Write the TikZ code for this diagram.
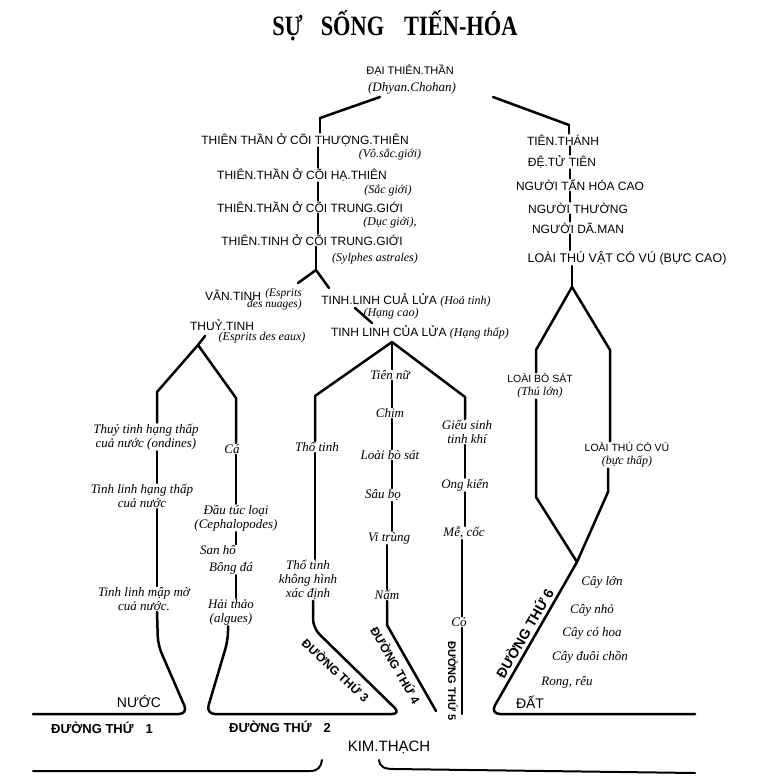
\documentclass[tikz,border=0pt]{standalone}
\usepackage{fontspec}
\setmainfont{Liberation Serif}
\newfontfamily\capsfont{Liberation Sans}
\newfontfamily\titlefont[FakeStretch=0.8]{Liberation Serif}
\usetikzlibrary{positioning,calc}
\tikzset{
	capsnode/.style={font=\capsfont\fontsize{12}{14}\selectfont, inner sep=1pt, align=center},
	handnode/.style={font=\itshape\fontsize{13}{14}\selectfont, inner sep=1pt, align=center},
	notenode/.style={font=\itshape\fontsize{12}{12}\selectfont, inner sep=1pt, align=center},
	roadnode/.style={font=\capsfont\bfseries\fontsize{12}{12}\selectfont, inner sep=1pt},
	stemline/.style={line width=2.5pt, line cap=round, line join=round}
}

\begin{document}
\begin{tikzpicture}[x=1pt,y=-1pt]
	\useasboundingbox (0,0) rectangle (758,784);
	\node[font=\titlefont\bfseries\fontsize{28}{30}\selectfont] at (395,26) (title) {SỰ\hspace{18pt}SỐNG\hspace{20pt}TIẾN-HÓA};
	\node[capsnode, font=\capsfont\fontsize{11}{12}\selectfont] at (410,70) (DTT) {ĐẠI THIÊN.THẦN};
	\node[handnode] at (412,88) (DC) {(Dhyan.Chohan)};
	\coordinate (DCl) at (380,97);
	\coordinate (DCr) at (493,97);
	\coordinate (Lj) at (320,118);
	\coordinate (Rj) at (569,125);
	\draw[stemline] (DCl) -- (Lj);
	\draw[stemline] (DCr) -- (Rj);
	
	% left: thien than
	\coordinate (spL) at (318,0);
	\node[capsnode] at (305,140) (TT1) {THIÊN THẦN Ở CÕI THƯỢNG.THIÊN};
	\node[notenode] at (390,154) (G1) {(Vô.sắc.giới)};
	\node[capsnode] at (302,175) (TT2) {THIÊN.THẦN Ở CÕI HẠ.THIÊN};
	\node[notenode] at (388,190) (G2) {(Sắc giới)};
	\node[capsnode] at (310,207) (TT3) {THIÊN.THẦN Ở CÕI TRUNG.GIỚI};
	\node[notenode] at (390,223) (G3) {(Dục giới),};
	\node[capsnode] at (312,240) (TT4) {THIÊN.TINH Ở CÕI TRUNG.GIỚI};
	\node[notenode] at (375,259) (G4) {(Sylphes astrales)};
	\draw[stemline] (Lj) -- (Lj |- TT1.north);
	\draw[stemline] (TT1.south -| spL) -- (TT2.north -| spL);
	\draw[stemline] (TT2.south -| spL) -- (TT3.north -| spL);
	\draw[stemline] (TT3.south -| spL) -- (TT4.north -| spL);
	\coordinate (Bj) at (316,270);
	\draw[stemline] (TT4.south -| Bj) -- (Bj);
	
	\node[capsnode] at (233,295) (VT) {VÂN.TINH};
	\node[notenode, font=\itshape\fontsize{11.5}{11}\selectfont, align=right, anchor=north east] at (303,287) (VTn) {(Esprits\\des nuages)};
	\node[capsnode] at (406,300) (TL1) {TINH.LINH CUẢ LỬA {\rmfamily\itshape (Hoả tinh)}};
	\node[notenode] at (391,314) (TL1n) {(Hạng cao)};
	\node[capsnode] at (420,332) (TL2) {TINH LINH CỦA LỬA {\rmfamily\itshape (Hạng thấp)}};
	\node[capsnode] at (222,325) (TY) {THUỶ.TINH};
	\node[notenode] at (262,338) (TYn) {(Esprits des eaux)};
	\coordinate (VTa) at (298,283);
	\coordinate (TLa) at (329,288);
	\coordinate (TLb) at (355,308);
	\coordinate (TLc) at (372,323);
	\draw[stemline] (VTa) -- (Bj) -- (TLa);
	\draw[stemline] (TLb) -- (TLc);
	
	% nuoc
	\coordinate (TYa) at (205,336);
	\coordinate (Wj) at (198,345);
	\coordinate (WLa) at (157,392);
	\coordinate (WRa) at (236,398);
	\node[handnode] at (146,437) (WL1) {Thuỷ tinh hạng thấp\\cuả nước (ondines)};
	\node[handnode] at (142,496) (WL2) {Tinh linh hạng thấp\\cuả nước};
	\node[handnode] at (144,599) (WL3) {Tinh linh mập mờ\\cuả nước.};
	\node[handnode] at (232,449) (WR1) {Cá};
	\node[handnode] at (236,518) (WR2) {Đầu túc loại\\(Cephalopodes)};
	\node[handnode] at (218,550) (WR3) {San hô};
	\node[handnode] at (231,568) (WR4) {Bông đá};
	\node[handnode] at (231,612) (WR5) {Hải thảo\\(algues)};
	\draw[stemline] (TYa) -- (Wj);
	\draw[stemline] (Wj) -- (WLa) -- (WLa |- WL1.north);
	\draw[stemline] (WL1.south -| WLa) -- (WL2.north -| WLa);
	\draw[stemline] (WL2.south -| WLa) -- (WL3.north -| WLa);
	\draw[stemline, rounded corners=9pt] (WL3.south -| WLa) -- (158,645) -- (188,714) -- (33,714);
	\draw[stemline] (Wj) -- (WRa) -- (WRa |- WR1.north);
	\draw[stemline] (WR1.south -| WRa) -- (WR2.north -| WRa);
	\draw[stemline] (WR2.south -| WRa) -- (WR3.north -| WRa);
	\draw[stemline] (WR4.south -| WRa) -- (WR5.north -| WRa);
	
	% lua
	\coordinate (Fj) at (392,342);
	\coordinate (FLa) at (315,396);
	\coordinate (FRa) at (465,397);
	\coordinate (FMb) at (387,625);
	\coordinate (FRb) at (462,0);
	\node[handnode] at (317,447) (FL1) {Thổ tinh};
	\node[handnode] at (308,580) (FL2) {Thổ tinh\\không hình\\xác định};
	\node[handnode] at (390,375) (FM1) {Tiên nữ};
	\node[handnode] at (390,413) (FM2) {Chim};
	\node[handnode] at (390,455) (FM3) {Loài bò sát};
	\node[handnode] at (383,495) (FM4) {Sâu bọ};
	\node[handnode] at (389,538) (FM5) {Vi trùng};
	\node[handnode] at (387,595) (FM6) {Nấm};
	\node[handnode] at (467,432) (FR1) {Giểu sinh\\tinh khí};
	\node[handnode] at (465,485) (FR2) {Ong kiến};
	\node[handnode] at (464,533) (FR3) {Mễ, cốc};
	\node[handnode] at (459,622) (FR4) {Cỏ};
	\draw[stemline] (Fj) -- (FLa) -- (FLa |- FL1.north);
	\draw[stemline] (FL1.south -| FLa) -- (FL2.north -| FLa);
	\draw[stemline, rounded corners=9pt] (FL2.south -| 313,0) -- (313,628) -- (401,714) -- (206,714) -- (228,640) -- (WR5.south -| 228,0);
	\draw[stemline] (Fj) -- (Fj |- FM1.north);
	\draw[stemline] (FM1.south -| Fj) -- (FM2.north -| Fj);
	\draw[stemline] (FM2.south -| Fj) -- (FM3.north -| Fj);
	\draw[stemline] (FM3.south -| Fj) -- (FM4.north -| Fj);
	\draw[stemline] (FM4.south -| Fj) -- (FM5.north -| Fj);
	\draw[stemline] (FM5.south -| FMb) -- (FM6.north -| FMb);
	\draw[stemline] (FM6.south -| FMb) -- (FMb) -- (436,711);
	\draw[stemline] (Fj) -- (FRa) -- (FRa |- FR1.north);
	\draw[stemline] (FR1.south -| FRa) -- (FR2.north -| FRa);
	\draw[stemline] (FR2.south -| FRa) -- (FR3.north -| FRa);
	\draw[stemline] (FR3.south -| FRb) -- (FR4.north -| FRb);
	\draw[stemline] (FR4.south -| FRb) -- (462,714);
	
	% right: tien thanh
	\coordinate (spR) at (570,0);
	\node[capsnode] at (563,140) (R1) {TIÊN.THÁNH};
	\node[capsnode] at (562,162) (R2) {ĐỆ.TỬ TIÊN};
	\node[capsnode] at (580,185) (R3) {NGƯỜI TẤN HÓA CAO};
	\node[capsnode] at (578,208) (R4) {NGƯỜI THƯỜNG};
	\node[capsnode] at (578,228) (R5) {NGƯỜI DÃ.MAN};
	\node[capsnode, font=\capsfont\fontsize{12.5}{14}\selectfont] at (627,258) (R6) {LOÀI THÚ VẬT CÓ VÚ (BỰC CAO)};
	\draw[stemline] (Rj) -- (Rj |- R1.north);
	\draw[stemline] (R1.south -| spR) -- (R2.north -| spR);
	\draw[stemline] (R2.south -| spR) -- (R3.north -| spR);
	\draw[stemline] (R3.south -| spR) -- (R4.north -| spR);
	\draw[stemline] (R4.south -| spR) -- (R5.north -| spR);
	\draw[stemline] (R5.south -| spR) -- (R6.north -| spR);
	\coordinate (Rb) at (572,287);
	\coordinate (RLa) at (536,350);
	\coordinate (RRa) at (610,350);
	\coordinate (RRb) at (608,0);
	\coordinate (Rm) at (577,562);
	\node[capsnode, font=\capsfont\fontsize{10.5}{13}\selectfont] at (540,386) (RL) {LOÀI BÒ SÁT\\{\rmfamily\itshape\fontsize{12}{13}\selectfont (Thú lớn)}};
	\node[capsnode, font=\capsfont\fontsize{10.5}{13}\selectfont] at (627,455) (RR) {LOÀI THÚ CÓ VÚ\\{\rmfamily\itshape\fontsize{12}{13}\selectfont (bực thấp)}};
	\draw[stemline] (R6.south -| Rb) -- (Rb);
	\draw[stemline] (Rb) -- (RLa) -- (RLa |- RL.north);
	\draw[stemline] (Rb) -- (RRa) -- (RRa |- RR.north);
	\draw[stemline] (RL.south -| RLa) -- (536,497) -- (Rm);
	\draw[stemline] (RR.south -| RRb) -- (608,492) -- (Rm);
	\draw[stemline, rounded corners=10pt] (Rm) -- (490,714) -- (695,714);
	\node[handnode] at (602,582) (P1) {Cây lớn};
	\node[handnode] at (592,610) (P2) {Cây nhỏ};
	\node[handnode] at (592,633) (P3) {Cây có hoa};
	\node[handnode] at (590,657) (P4) {Cây đuôi chồn};
	\node[handnode] at (567,682) (P5) {Rong, rêu};
	
	% duong thu
	\node[capsnode, font=\capsfont\fontsize{14}{14}\selectfont] at (139,701) (NUOC) {NƯỚC};
	\node[capsnode, font=\capsfont\fontsize{14}{14}\selectfont] at (530,702) (DAT) {ĐẤT};
	\node[roadnode, font=\capsfont\bfseries\fontsize{13}{13}\selectfont] at (102,728) (D1) {ĐƯỜNG THỨ\hspace{12pt}1};
	\node[roadnode, font=\capsfont\bfseries\fontsize{13}{13}\selectfont] at (280,727) (D2) {ĐƯỜNG THỨ\hspace{12pt}2};
	\node[roadnode, rotate=-43] at (336,670) (D3) {ĐƯỜNG THỨ 3};
	\node[roadnode, rotate=-60] at (396,665) (D4) {ĐƯỜNG THỨ 4};
	\node[roadnode, font=\capsfont\bfseries\fontsize{11}{12}\selectfont, rotate=-90] at (453,681) (D5) {ĐƯỜNG THỨ 5};
	\node[roadnode, font=\capsfont\bfseries\fontsize{14}{14}\selectfont, rotate=60] at (524,633) (D6) {ĐƯỜNG THỨ 6};
	\node[capsnode, font=\capsfont\fontsize{15}{15}\selectfont] at (389,747) (KT) {KIM.THẠCH};
	\draw[line width=2pt, line cap=round] (33,771) -- (310,771) .. controls (318,771) and (321,767) .. (322,760);
	\draw[line width=2pt, line cap=round] (379,760) .. controls (380,767) and (384,769) .. (394,769) -- (695,773);
\end{tikzpicture}
\end{document}
